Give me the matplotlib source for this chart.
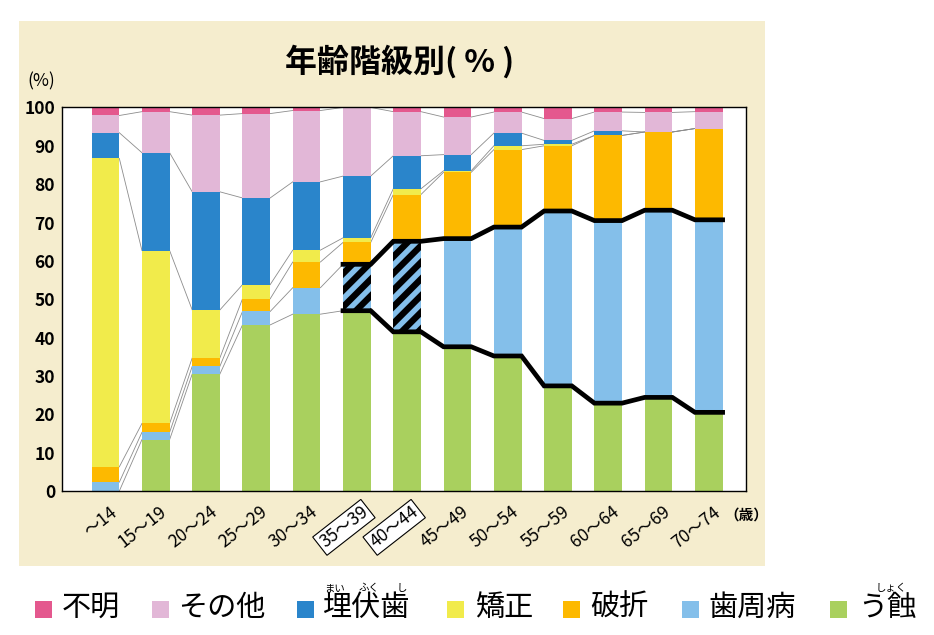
import matplotlib
matplotlib.use('Agg')
import matplotlib.pyplot as plt
from matplotlib.patches import Rectangle
import numpy as np

plt.rcParams['font.family'] = ['Noto Sans CJK JP', 'DejaVu Sans']
plt.rcParams['hatch.linewidth'] = 4.6

# 年齢階級
ages = ['～14', '15～19', '20～24', '25～29', '30～34', '35～39', '40～44',
        '45～49', '50～54', '55～59', '60～64', '65～69', '70～74']

# 各原因の割合（%）、下から積み上げ
ushoku = [0.0, 13.4, 30.5, 43.3, 46.1, 47.0, 41.5, 37.6, 35.2, 27.4, 22.9, 24.4, 20.5]
shishubyo = [2.3, 1.9, 2.0, 3.5, 6.9, 12.1, 23.6, 28.2, 33.6, 45.6, 47.6, 48.8, 50.2]
haseki = [4.0, 2.3, 2.2, 3.3, 6.7, 5.7, 12.2, 17.3, 20.2, 17.0, 22.2, 20.4, 23.8]
kyosei = [80.4, 45.1, 12.5, 3.7, 3.1, 1.2, 1.5, 0.4, 1.0, 0.4, 0.0, 0.0, 0.0]
maifukushi = [6.7, 25.5, 30.8, 22.6, 17.8, 16.1, 8.6, 4.2, 3.3, 1.0, 1.2, 0.0, 0.0]
sonota = [4.5, 10.7, 20.0, 22.0, 18.6, 17.9, 11.5, 9.8, 5.5, 5.7, 4.9, 5.1, 4.4]
fumei = [2.1, 1.1, 2.0, 1.6, 0.8, 0.0, 1.1, 2.5, 1.2, 2.9, 1.2, 1.3, 1.1]

series = [
    ('う蝕', ushoku, '#A9D05E'),
    ('歯周病', shishubyo, '#84BFEA'),
    ('破折', haseki, '#FDB900'),
    ('矯正', kyosei, '#F1EB4B'),
    ('埋伏歯', maifukushi, '#2A85CB'),
    ('その他', sonota, '#E2B7D7'),
    ('不明', fumei, '#E4588E'),
]

# 斜線・枠囲みの年齢階級
hatched_ages = ['35～39', '40～44']
# 太線で結ぶ範囲（この年齢階級以降）
bold_from = '35～39'

fig = plt.figure(figsize=(9.34, 6.35), dpi=100)

# 背景パネル（専用の軸に描いて、グラフの下に置く）
bg = fig.add_axes([0, 0, 1, 1])
bg.set_axis_off()
bg.set_xlim(0, 934)
bg.set_ylim(635, 0)
bg.add_patch(Rectangle((19, 21), 746, 545, facecolor='#F5EDCE', edgecolor='none'))

ax = fig.add_axes([0.0664, 0.2268, 0.7323, 0.604])
ax.set_facecolor('white')

x = np.arange(len(ages))
w = 0.55
bottom = np.zeros(len(ages))
levels = []
for name, vals, color in series:
    vals = np.array(vals)
    for i in range(len(ages)):
        hatch = '//' if (name == '歯周病' and ages[i] in hatched_ages) else None
        ax.bar(x[i], vals[i], width=w, bottom=bottom[i], color=color,
               edgecolor='black' if hatch else color, linewidth=0, hatch=hatch, zorder=2)
    bottom = bottom + vals
    levels.append(bottom.copy())

# 系列線（細い灰色）
b0 = ages.index(bold_from)
for k, lev in enumerate(levels[:-1]):
    for i in range(len(ages) - 1):
        if k in (0, 1) and i >= b0:
            continue
        ax.plot([x[i] + w / 2, x[i + 1] - w / 2], [lev[i], lev[i + 1]],
                color='#8C8C8C', lw=0.6, zorder=1)

# 太線（う蝕・歯周病の上端）
for k in (0, 1):
    xs, ys = [], []
    for i in range(b0, len(ages)):
        xs += [x[i] - w / 2, x[i] + w / 2]
        ys += [levels[k][i], levels[k][i]]
    ax.plot(xs, ys, color='black', lw=3.4, zorder=3, solid_joinstyle='miter')

ax.set_xlim(-0.865, 12.74)
ax.set_ylim(0, 100)
ax.set_yticks(range(0, 101, 10))
ax.tick_params(axis='y', length=0, pad=5, labelsize=12.5)
for t in ax.get_yticklabels():
    t.set_fontweight('bold')
ax.set_xticks([])
for s in ax.spines.values():
    s.set_linewidth(1.0)
    s.set_color('black')
    s.set_zorder(4)

for i, lab in enumerate(ages):
    box = None
    if lab in hatched_ages:
        box = dict(boxstyle='square,pad=0.15', facecolor='white', edgecolor='black', lw=0.8)
    ax.text(x[i] + 0.18, -5.0, lab, rotation=38, rotation_mode='anchor',
            ha='right', va='center', fontsize=12.5, bbox=box, clip_on=False)

bg.text(746, 515, '（歳）', fontsize=10.5, fontweight='bold', ha='center', va='center')
bg.text(41, 81, '(%)', fontsize=12.5, ha='center', va='center')
bg.text(400, 62, '年齢階級別( % )', fontsize=23, fontweight='bold',
        ha='center', va='center')

# 凡例（表示順）
legend_items = [('不明', '#E4588E'), ('その他', '#E2B7D7'), ('埋伏歯', '#2A85CB'),
                ('矯正', '#F1EB4B'), ('破折', '#FDB900'), ('歯周病', '#84BFEA'),
                ('う蝕', '#A9D05E')]
square_x = [35, 152, 297, 447, 563, 682, 830]
text_x = [62, 178, 322, 475, 590, 708, 858]
for (name, color), sx, tx in zip(legend_items, square_x, text_x):
    bg.add_patch(Rectangle((sx, 601), 17, 17, facecolor=color, edgecolor='none'))
    bg.text(tx, 608, name, fontsize=21, ha='left', va='center')

# ふりがな
for kana, cx in [('まい', 335), ('ふく', 369), ('し', 402), ('しょく', 891)]:
    bg.text(cx, 588, kana, fontsize=7.5, ha='center', va='center')

fig.savefig('out.png', dpi=100, facecolor='white')
